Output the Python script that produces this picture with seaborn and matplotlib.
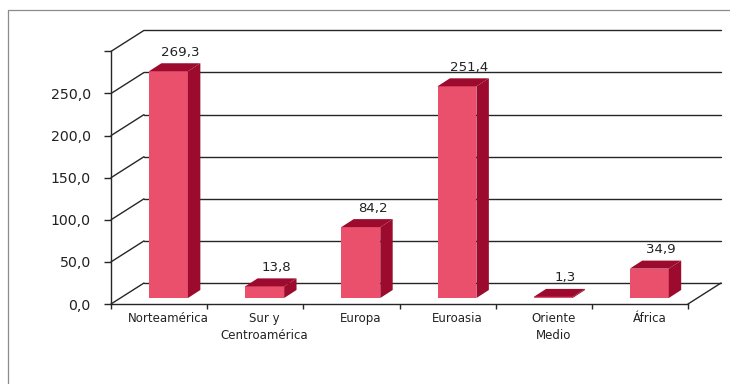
import numpy as np
import pandas as pd
import seaborn as sns
import matplotlib
matplotlib.use("Agg")
import matplotlib.pyplot as plt
from matplotlib.patches import Polygon
from matplotlib.lines import Line2D
from matplotlib.transforms import Affine2D

# ---- data ----
categories = ["Norteamérica", "Sur y\nCentroamérica", "Europa", "Euroasia", "Oriente\nMedio", "África"]
values = [269.3, 13.8, 84.2, 251.4, 1.3, 34.9]
y_ticks = [0, 50, 100, 150, 200, 250, 300]
y_tick_labels = ["0,0", "50,0", "100,0", "150,0", "200,0", "250,0", ""]


def fmt(v):
    return f"{v:.1f}".replace(".", ",")


value_labels = [fmt(v) for v in values]

# ---- style ----
FRONT = "#EA506B"
DARK = "#9C0A2D"
LINE = "#262626"
TEXT = "#222222"

W, H, DPI = 730, 384, 100
sns.set_theme(style="ticks")
plt.rcParams["font.family"] = ["DejaVu Sans"]

fig = plt.figure(figsize=(W / DPI, H / DPI), dpi=DPI)
fig.patch.set_facecolor("white")

# front plane of the pseudo-3D box (pixels)
x0, x1 = 111, 688
y0, y1 = 304, 51.4
ax = fig.add_axes([x0 / W, 1 - y0 / H, (x1 - x0) / W, (y0 - y1) / H])
ax.set_facecolor("none")

n = len(categories)
ppx = (x1 - x0) / n
ppy = (y0 - y1) / 300.0


def d(px, py):
    return px / ppx, py / ppy


wdx, wdy = d(33, 21)      # depth of the wall
fdx, fdy = d(9.4, 6)      # bar front face offset
bdx, bdy = d(12.4, 8)     # bar depth

df = pd.DataFrame({"region": categories, "value": values})
sns.barplot(data=df, x="region", y="value", color=FRONT, saturation=1,
            width=0.405, ax=ax, zorder=3, edgecolor="none", linewidth=0)
ax.set_xlim(-0.5, n - 0.5)
ax.set_ylim(0, 300)

# gridlines / walls
for t in y_ticks:
    ax.plot([-0.5, -0.5 + wdx], [t, t + wdy], color=LINE, lw=1.0, clip_on=False, zorder=1)
    ax.plot([-0.5 + wdx, n - 0.5 + wdx], [t + wdy, t + wdy], color=LINE, lw=1.0,
            clip_on=False, zorder=1)
ax.plot([n - 0.5, n - 0.5 + wdx], [0, wdy], color=LINE, lw=1.0, clip_on=False, zorder=1)

# 3D bar faces
for i, p in enumerate(ax.patches):
    p.set_x(p.get_x() + fdx)
    p.set_y(fdy)
    p.set_clip_on(False)
    xl = p.get_x()
    xr = xl + p.get_width()
    bot = fdy
    top = fdy + p.get_height()
    side = Polygon([(xr, bot), (xr + bdx, bot + bdy), (xr + bdx, top + bdy), (xr, top)],
                   closed=True, facecolor=DARK, edgecolor="none", zorder=3, clip_on=False)
    topf = Polygon([(xl, top), (xr, top), (xr + bdx, top + bdy), (xl + bdx, top + bdy)],
                   closed=True, facecolor=DARK, edgecolor="none", zorder=3, clip_on=False)
    ax.add_patch(side)
    ax.add_patch(topf)

# value labels
lx, ly = d(9.4 + 12, 14 + 7.5)
for i, (v, lab) in enumerate(zip(values, value_labels)):
    ax.text(i + lx, v + ly, lab, ha="center", va="baseline", fontsize=9.6,
            color=TEXT, zorder=5, clip_on=False)

# axes / ticks
for s in ["top", "right"]:
    ax.spines[s].set_visible(False)
for s in ["left", "bottom"]:
    ax.spines[s].set_color(LINE)
    ax.spines[s].set_linewidth(1.0)

ax.set_yticks(y_ticks)
ax.set_yticklabels(y_tick_labels)
ax.tick_params(axis="y", left=True, direction="out", length=5, width=1.0, color=LINE,
               pad=9.5, labelsize=10.2, labelcolor=TEXT)

ax.set_xticks(range(n))
ax.set_xticklabels(categories)
ax.set_xticks(np.arange(-0.5, n, 1.0), minor=True)
ax.tick_params(axis="x", which="major", bottom=True, length=0, pad=5.5,
               labelsize=8.5, labelcolor=TEXT)
ax.tick_params(axis="x", which="minor", bottom=True, direction="out", length=3.6,
               width=1.0, color=LINE)
for lab in ax.get_xticklabels():
    lab.set_linespacing(1.4)
    lab.set_transform(lab.get_transform() + Affine2D().translate(9.4, 0))
ax.set_xlabel("")
ax.set_ylabel("")

# outer frame
fig.add_artist(Line2D([8 / W, 8 / W], [0, 1 - 10 / H], transform=fig.transFigure,
                      color="#8c8c8c", lw=0.9))
fig.add_artist(Line2D([8 / W, 1], [1 - 10 / H, 1 - 10 / H], transform=fig.transFigure,
                      color="#8c8c8c", lw=0.9))

fig.savefig("out.png", dpi=DPI, facecolor="white")
